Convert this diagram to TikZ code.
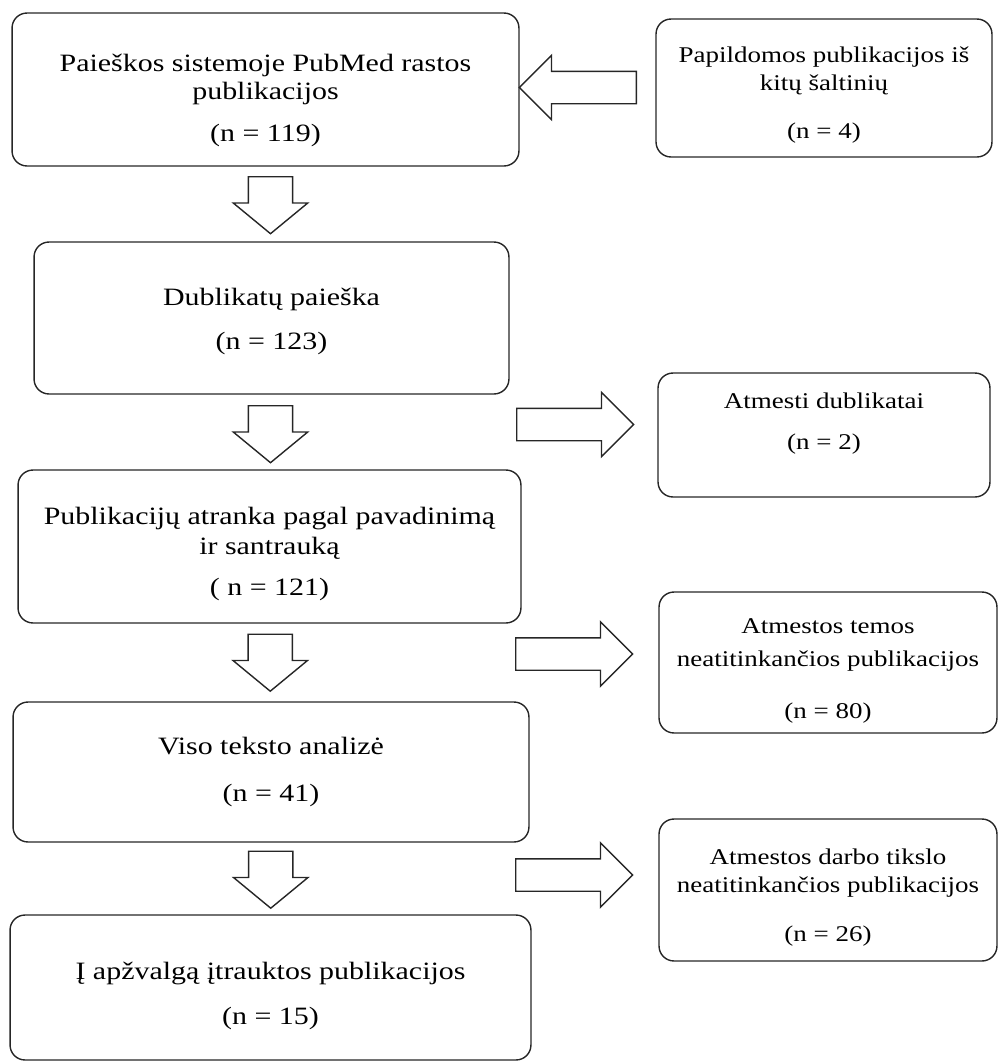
\documentclass[tikz,border=0pt]{standalone}
\usepackage{fontspec}
\setmainfont{Liberation Serif}[FakeStretch=1.2]
\usetikzlibrary{
    shapes.arrows,
    calc,
    positioning,
}
\newcommand{\mainsize}{\fontsize{14.2pt}{16.2pt}\selectfont}
\newcommand{\sidesize}{\fontsize{12.8pt}{15.9pt}\selectfont}
\tikzset{
    stepbox/.style = {
        rectangle,
        rounded corners=0.3cm,
        align=center,
        line width=0.8pt,
        draw=black!85,
        font=\mainsize,
    },
    sidebox/.style = {
        stepbox,
        font=\sidesize,
    },
    downarrow/.style = {
        single arrow,
        rotate=-90,
        anchor=tail,
        inner xsep=0pt,
        inner ysep=0.43cm,
        minimum height=1.14cm,
        single arrow head extend=0.3cm,
        single arrow tip angle=101,
        line width=0.8pt,
        draw=black!85,
    },
    sidearrow/.style = {
        single arrow,
        anchor=tail,
        inner xsep=0pt,
        inner ysep=0.31cm,
        minimum height=2.34cm,
        single arrow head extend=0.32cm,
        single arrow tip angle=90,
        line width=0.8pt,
        draw=black!85,
    },
}

\begin{document}
\begin{tikzpicture}[x=0.02cm, y=-0.02cm]
        \useasboundingbox (0,0) rectangle (999,1062);

        \node [stepbox, minimum width=10.14cm, minimum height=3.06cm] (search) at (265.5,89.5)
        {\mbox{}\\[0.22cm]Paieškos sistemoje PubMed rastos\\publikacijos\\[0.27cm](n = 119)};

        \node [sidebox, minimum width=6.72cm, minimum height=2.76cm] (extra) at (824,88)
        {\mbox{}\\[0.03cm]Papildomos publikacijos iš\\kitų šaltinių\\[0.4cm](n = 4)};

        \node [stepbox, minimum width=9.5cm, minimum height=3.04cm] (dupl) at (271.5,318)
        {\mbox{}\\[-0.08cm]Dublikatų paieška\\[0.31cm](n = 123)};

        \node [sidebox, minimum width=6.64cm, minimum height=2.48cm] (dupout) at (824,435)
        {Atmesti dublikatai\\[0.26cm](n = 2)\\[-0.02cm]\mbox{}};

        \node [stepbox, minimum width=10.06cm, minimum height=3.06cm] (screen) at (269.5,546.5)
        {\mbox{}\\[0.08cm]Publikacijų atranka pagal pavadinimą\\[0.02cm]ir santrauką\\[0.25cm]( n = 121)};

        \node [sidebox, minimum width=6.76cm, minimum height=2.82cm] (topicout) at (828,662.5)
        {\mbox{}\\[0.09cm]Atmestos temos\\[0.1cm]neatitinkančios publikacijos\\[0.48cm](n = 80)};

        \node [stepbox, minimum width=10.32cm, minimum height=2.8cm] (fulltext) at (271,772)
        {Viso teksto analizė\\[0.37cm](n = 41)};

        \node [sidebox, minimum width=6.76cm, minimum height=2.84cm] (goalout) at (828,890)
        {\mbox{}\\[0.07cm]Atmestos darbo tikslo\\neatitinkančios publikacijos\\[0.42cm](n = 26)};

        \node [stepbox, minimum width=10.42cm, minimum height=2.9cm] (included) at (270.5,987.5)
        {\mbox{}\\[0.12cm]Į apžvalgą įtrauktos publikacijos\\[0.33cm](n = 15)};

        % block arrows
        \node [downarrow] (down1) at ($(search.south)!0.5!(dupl.north)+(2,-28)$) {};
        \node [downarrow] (down2) at ($(dupl.south)!0.5!(screen.north)+(0,-27)$) {};
        \node [downarrow] (down3) at ($(screen.south)!0.5!(fulltext.north)+(0,-29)$) {};
        \node [downarrow] (down4) at ($(fulltext.south)!0.5!(included.north)+(0,-28)$) {};

        \node [sidearrow, rotate=180] (left1) at (637,87.5) {};
        \node [sidearrow] (right1) at (516,424.5) {};
        \node [sidearrow] (right2) at (515,654) {};
        \node [sidearrow] (right3) at (515,875) {};

\end{tikzpicture}
\end{document}
